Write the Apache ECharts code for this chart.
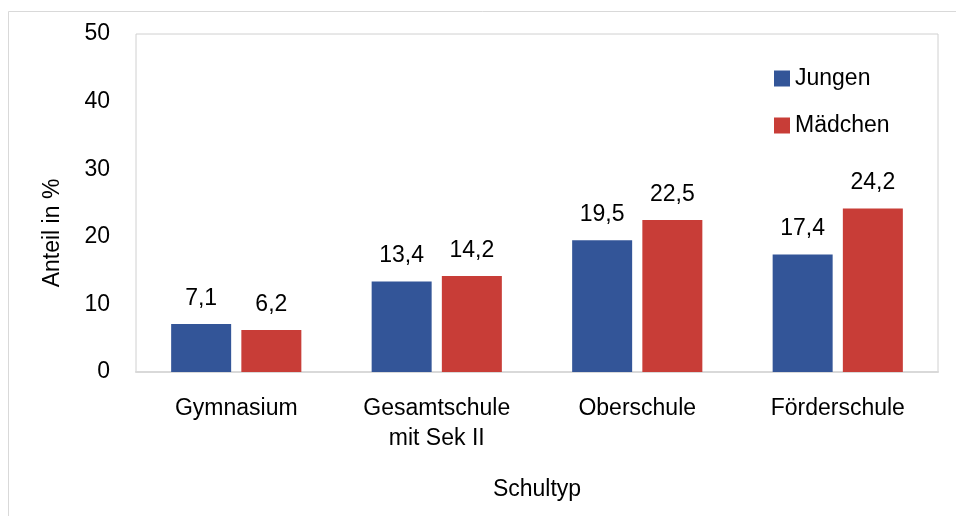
<!DOCTYPE html>
<html>
<head>
<meta charset="utf-8">
<script src="https://cdn.jsdelivr.net/npm/echarts@6/dist/echarts.min.js"></script>
<style>
  html, body { margin: 0; padding: 0; background: #fff; }
  #chart { width: 956px; height: 516px; }
</style>
</head>
<body>
<div id="chart"></div>
<script>
// Daten
var categories = ['Gymnasium', 'Gesamtschule\nmit Sek II', 'Oberschule', 'Förderschule'];
var jungen = [7.1, 13.4, 19.5, 17.4];
var maedchen = [6.2, 14.2, 22.5, 24.2];
var yTicks = [0, 10, 20, 30, 40, 50];

var font = 'Liberation Sans, Arial, sans-serif';
var chart = echarts.init(document.getElementById('chart'));

function komma(p) {
    return String(p.value.toFixed(1)).replace('.', ',');
}

var option = {
    backgroundColor: '#fff',
    animation: false,
    textStyle: { fontFamily: font, color: '#000' },
    graphic: [{
        type: 'rect',
        shape: { x: 8.5, y: 11.5, width: 960, height: 520 },
        style: { fill: 'none', stroke: '#d9d9d9', lineWidth: 1 }
    }],
    grid: {
        left: 136, right: 18, top: 34, bottom: 144,
        show: true, borderColor: '#d0d0d0', borderWidth: 1
    },
    legend: {
        orient: 'vertical',
        left: 769, top: 62,
        itemWidth: 16, itemHeight: 16, itemGap: 24,
        icon: 'rect',
        textStyle: { fontSize: 23, fontFamily: font, color: '#000' },
        data: ['Jungen', 'Mädchen']
    },
    xAxis: {
        type: 'category',
        data: categories,
        name: 'Schultyp',
        nameLocation: 'middle',
        nameGap: 106,
        nameTextStyle: { fontSize: 23, fontFamily: font, color: '#000' },
        axisLine: { lineStyle: { color: '#d9d9d9', width: 2 } },
        axisTick: { length: 8, lineStyle: { color: '#d9d9d9', width: 2 } },
        axisLabel: { fontSize: 23, fontFamily: font, color: '#000', margin: 22, lineHeight: 30 }
    },
    yAxis: {
        type: 'value',
        min: yTicks[0], max: yTicks[yTicks.length - 1], interval: 10,
        name: 'Anteil in %',
        nameLocation: 'middle',
        nameGap: 72,
        nameTextStyle: { fontSize: 23, fontFamily: font, color: '#000', padding: [0, 60, 0, 0] },
        axisLine: { show: false },
        axisTick: { show: false },
        splitLine: { show: false },
        axisLabel: { fontSize: 23, fontFamily: font, color: '#000', margin: 26 }
    },
    series: [{
        name: 'Jungen',
        type: 'bar',
        data: jungen,
        barWidth: 60,
        barGap: '17%',
        itemStyle: { color: '#335598' },
        label: { show: true, position: 'top', distance: 14, fontSize: 23, fontFamily: font, color: '#000', formatter: komma }
    }, {
        name: 'Mädchen',
        type: 'bar',
        data: maedchen,
        barWidth: 60,
        itemStyle: { color: '#c83d37' },
        label: { show: true, position: 'top', distance: 14, fontSize: 23, fontFamily: font, color: '#000', formatter: komma }
    }]
};

chart.setOption(option);
</script>
</body>
</html>
